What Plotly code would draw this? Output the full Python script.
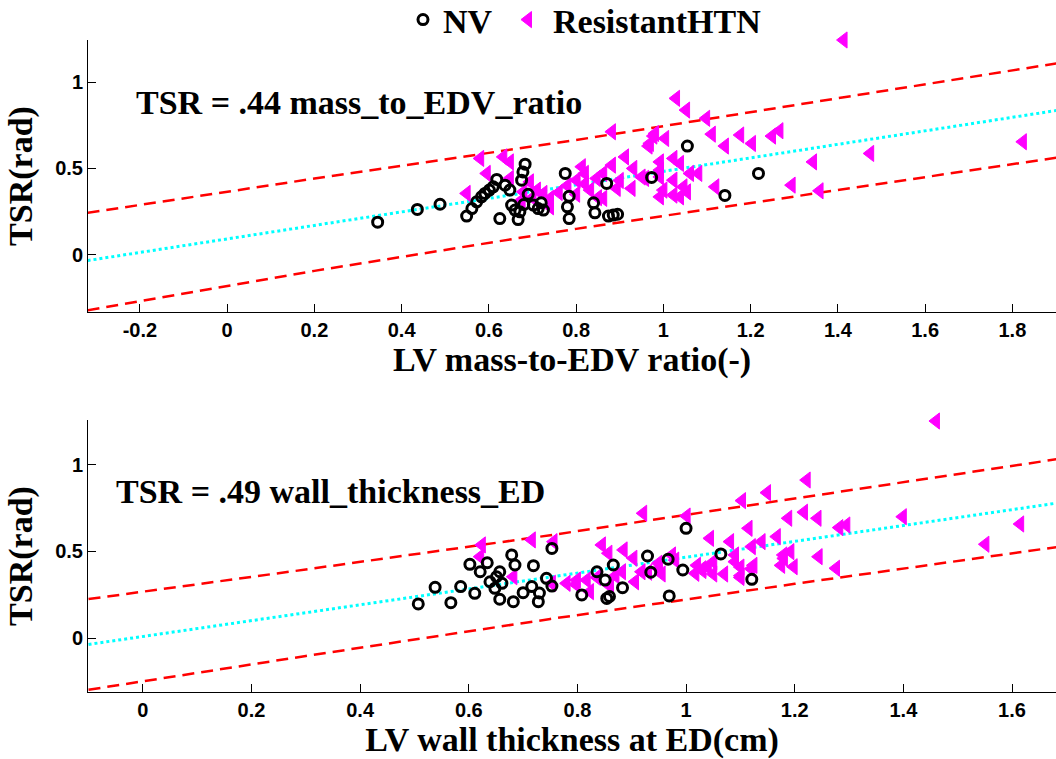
import plotly.graph_objects as go

# ---------------- data: top panel (LV mass-to-EDV ratio) ----------------
nv_top_x = [0.345, 0.436, 0.488, 0.549, 0.561, 0.572, 0.583, 0.591, 0.601, 0.610, 0.618, 0.625,
            0.637, 0.648, 0.652, 0.660, 0.667, 0.671, 0.675, 0.678, 0.683, 0.680, 0.702, 0.713,
            0.725, 0.775, 0.780, 0.784, 0.784, 0.843, 0.840, 0.870, 0.874, 0.885, 0.895, 0.973,
            1.055, 1.218, 1.141, 0.690, 0.720]
nv_top_y = [0.188, 0.262, 0.292, 0.223, 0.267, 0.306, 0.335, 0.355, 0.374, 0.393, 0.436, 0.209,
            0.403, 0.374, 0.287, 0.258, 0.203, 0.248, 0.432, 0.480, 0.525, 0.290, 0.287, 0.267,
            0.258, 0.471, 0.277, 0.339, 0.209, 0.242, 0.300, 0.413, 0.223, 0.229, 0.234, 0.448,
            0.630, 0.471, 0.343, 0.350, 0.300]
htn_top_x = [0.580, 0.633, 0.648, 0.595, 0.648, 0.549, 0.694, 0.679, 0.675, 0.710, 0.725, 0.740,
             0.740, 0.760, 0.813, 0.820, 0.801, 0.820, 0.832, 0.847, 0.862, 0.882, 0.882, 0.912,
             0.931, 0.893, 0.927, 0.862, 0.850, 0.800, 0.950, 0.969, 0.981, 0.992, 1.413, 1.029,
             1.052, 1.098, 0.977, 1.004, 0.966, 1.111, 1.141, 1.176, 1.203, 1.249, 1.266, 1.343,
             1.474, 1.824, 1.119, 1.294, 1.358, 0.992, 1.023, 1.038, 1.080, 1.061, 0.992, 1.023,
             1.046, 1.000, 1.023, 1.054, 0.958, 0.992, 1.038, 0.900, 0.780, 0.700]
htn_top_y = [0.558, 0.567, 0.538, 0.471, 0.442, 0.355, 0.422, 0.364, 0.316, 0.374, 0.355, 0.326,
             0.277, 0.360, 0.510, 0.471, 0.432, 0.410, 0.374, 0.442, 0.471, 0.519, 0.713, 0.567,
             0.500, 0.384, 0.384, 0.326, 0.330, 0.350, 0.450, 0.645, 0.703, 0.490, 1.246, 0.907,
             0.839, 0.791, 0.688, 0.674, 0.630, 0.699, 0.630, 0.694, 0.645, 0.688, 0.719, 0.538,
             0.587, 0.655, 0.393, 0.403, 0.370, 0.538, 0.558, 0.529, 0.471, 0.471, 0.451, 0.432,
             0.393, 0.374, 0.345, 0.364, 0.442, 0.335, 0.335, 0.430, 0.400, 0.330]
fit_top_x = [-0.32, 1.91]
fit_top_y = [-0.035, 0.840]
band_top_x = [-0.32, 0.2, 0.8, 1.4, 1.91]
band_top_up = [0.242, 0.441, 0.665, 0.906, 1.114]
band_top_lo = [-0.324, -0.095, 0.149, 0.376, 0.566]

# ---------------- data: bottom panel (LV wall thickness at ED) ----------------
nv_bot_x = [0.507, 0.538, 0.567, 0.585, 0.602, 0.611, 0.621, 0.634, 0.639, 0.648, 0.651, 0.657,
            0.657, 0.661, 0.679, 0.682, 0.685, 0.700, 0.719, 0.728, 0.730, 0.743, 0.753, 0.753,
            0.716, 0.808, 0.854, 0.851, 0.866, 0.883, 0.836, 0.929, 0.935, 0.967, 0.969, 0.994,
            1.000, 1.064, 1.121, 0.859]
nv_bot_y = [0.197, 0.293, 0.204, 0.297, 0.426, 0.258, 0.383, 0.435, 0.325, 0.287, 0.354, 0.383,
            0.224, 0.316, 0.480, 0.210, 0.422, 0.262, 0.418, 0.210, 0.260, 0.345, 0.518, 0.300,
            0.297, 0.249, 0.229, 0.335, 0.422, 0.291, 0.383, 0.474, 0.380, 0.455, 0.243, 0.393,
            0.634, 0.486, 0.339, 0.240]
htn_bot_x = [0.624, 0.621, 0.682, 0.716, 0.756, 0.753, 0.780, 0.797, 0.799, 0.817, 0.823, 0.836,
             0.845, 0.857, 0.885, 0.903, 0.882, 0.870, 0.906, 0.918, 0.930, 0.921, 1.001, 0.949,
             0.955, 0.974, 0.980, 1.017, 1.030, 1.020, 1.044, 1.040, 1.050, 1.050, 1.030, 1.070,
             1.081, 1.090, 1.090, 1.100, 1.100, 1.100, 1.115, 1.120, 1.124, 1.121, 1.139, 1.167,
             1.175, 1.179, 1.188, 1.192, 1.180, 1.198, 1.103, 1.149, 1.222, 1.217, 1.242, 1.244,
             1.276, 1.282, 1.295, 1.399, 1.460, 1.551, 1.615, 0.860, 0.950]
htn_bot_y = [0.538, 0.470, 0.354, 0.567, 0.557, 0.316, 0.316, 0.310, 0.335, 0.335, 0.268, 0.350,
             0.538, 0.490, 0.509, 0.461, 0.383, 0.360, 0.325, 0.383, 0.380, 0.721, 0.705, 0.432,
             0.370, 0.480, 0.450, 0.374, 0.400, 0.420, 0.576, 0.410, 0.440, 0.370, 0.390, 0.370,
             0.557, 0.480, 0.441, 0.410, 0.350, 0.360, 0.634, 0.400, 0.420, 0.528, 0.557, 0.586,
             0.420, 0.480, 0.692, 0.499, 0.460, 0.412, 0.794, 0.840, 0.913, 0.727, 0.692, 0.470,
             0.403, 0.638, 0.653, 0.701, 1.254, 0.542, 0.659, 0.300, 0.400]
fit_bot_x = [-0.1, 1.69]
fit_bot_y = [-0.037, 0.783]
band_bot_x = [-0.1, 0.3, 0.75, 1.2, 1.69]
band_bot_up = [0.225, 0.396, 0.594, 0.805, 1.037]
band_bot_lo = [-0.299, -0.104, 0.110, 0.313, 0.529]

# ---------------- axes / text ----------------
top_xticks = [-0.2, 0, 0.2, 0.4, 0.6, 0.8, 1, 1.2, 1.4, 1.6, 1.8]
top_xticktext = ["-0.2", "0", "0.2", "0.4", "0.6", "0.8", "1", "1.2", "1.4", "1.6", "1.8"]
bot_xticks = [0, 0.2, 0.4, 0.6, 0.8, 1, 1.2, 1.4, 1.6]
bot_xticktext = ["0", "0.2", "0.4", "0.6", "0.8", "1", "1.2", "1.4", "1.6"]
yticks = [0, 0.5, 1]
yticktext = ["0", "0.5", "1"]
top_xlabel = "LV mass-to-EDV ratio(-)"
bot_xlabel = "LV wall thickness at ED(cm)"
ylabel = "TSR(rad)"
top_eq = "TSR = .44 mass_to_EDV_ratio"
bot_eq = "TSR = .49 wall_thickness_ED"

SERIF = "Liberation Serif, Times New Roman, serif"
SANS = "Liberation Sans Narrow, Liberation Sans, Arial, sans-serif"
BIG = 34

fig = go.Figure()


def add_panel(xa, ya, nvx, nvy, hx, hy, fx, fy, bx, bu, bl, show):
    fig.add_trace(go.Scatter(x=fx, y=fy, mode="lines", xaxis=xa, yaxis=ya, showlegend=False,
                             line=dict(color="#00FFFF", width=3, dash="dot"), hoverinfo="skip"))
    fig.add_trace(go.Scatter(x=bx, y=bu, mode="lines", xaxis=xa, yaxis=ya, showlegend=False,
                             line=dict(color="#FF0000", width=2.5, dash="12px,7px"), hoverinfo="skip"))
    fig.add_trace(go.Scatter(x=bx, y=bl, mode="lines", xaxis=xa, yaxis=ya, showlegend=False,
                             line=dict(color="#FF0000", width=2.5, dash="12px,7px"), hoverinfo="skip"))
    fig.add_trace(go.Scatter(x=hx, y=hy, mode="markers", xaxis=xa, yaxis=ya, name="ResistantHTN",
                             showlegend=show, legend="legend2", cliponaxis=False,
                             marker=dict(symbol="triangle-left", size=14, color="#FF00FF",
                                         line=dict(color="#FF00FF", width=1))))
    fig.add_trace(go.Scatter(x=nvx, y=nvy, mode="markers", xaxis=xa, yaxis=ya, name="NV",
                             showlegend=show, legend="legend", cliponaxis=False,
                             marker=dict(symbol="circle-open", size=10, color="black",
                                         line=dict(color="black", width=3))))


add_panel("x", "y", nv_top_x, nv_top_y, htn_top_x, htn_top_y, fit_top_x, fit_top_y,
          band_top_x, band_top_up, band_top_lo, True)
add_panel("x2", "y2", nv_bot_x, nv_bot_y, htn_bot_x, htn_bot_y, fit_bot_x, fit_bot_y,
          band_bot_x, band_bot_up, band_bot_lo, False)

axis_common = dict(showline=True, linecolor="black", linewidth=1, ticks="inside", ticklen=8,
                   tickcolor="black", showgrid=False, zeroline=False, automargin=False,
                   tickfont=dict(family=SANS, size=20, color="black", weight="bold"))
title_font = dict(family=SERIF, size=BIG, color="black", weight="bold")
legend_font = dict(family=SERIF, size=34, color="black", weight="bold")

fig.update_layout(
    width=1056, height=759,
    margin=dict(l=88, r=0, t=40, b=67, autoexpand=False),
    paper_bgcolor="white", plot_bgcolor="white",
    xaxis=dict(domain=[0, 1], range=[-0.319, 1.90], anchor="y", tickvals=top_xticks,
               ticktext=top_xticktext,
               title=dict(text=top_xlabel, font=title_font, standoff=7), **axis_common),
    yaxis=dict(domain=[0.5828, 1.0], range=[-0.334, 1.246], anchor="x", tickvals=yticks,
               ticktext=yticktext,
               title=dict(text=ylabel, font=title_font, standoff=12), **axis_common),
    xaxis2=dict(domain=[0, 1], range=[-0.101, 1.681], anchor="y2", tickvals=bot_xticks,
                ticktext=bot_xticktext,
                title=dict(text=bot_xlabel, font=title_font, standoff=7), **axis_common),
    yaxis2=dict(domain=[0.0, 0.4172], range=[-0.312, 1.26], anchor="x2", tickvals=yticks,
                ticktext=yticktext,
                title=dict(text=ylabel, font=title_font, standoff=12), **axis_common),
    legend=dict(orientation="h", x=0.3254, y=1.0307, xanchor="left", yanchor="middle",
                font=legend_font, bgcolor="rgba(0,0,0,0)", itemwidth=30),
    legend2=dict(orientation="h", x=0.4287, y=1.0307, xanchor="left", yanchor="middle",
                 font=legend_font, bgcolor="rgba(0,0,0,0)", itemwidth=40),
    annotations=[
        dict(text=top_eq, xref="x", yref="y", x=-0.214, y=0.885, xanchor="left", yanchor="middle",
             showarrow=False, font=title_font),
        dict(text=bot_eq, xref="x2", yref="y2", x=-0.054, y=0.845, xanchor="left", yanchor="middle",
             showarrow=False, font=title_font),
    ],
)

fig.write_html("out.html", config={"displayModeBar": False},
               post_script="document.body.style.margin='0';document.body.style.overflow='hidden';")
